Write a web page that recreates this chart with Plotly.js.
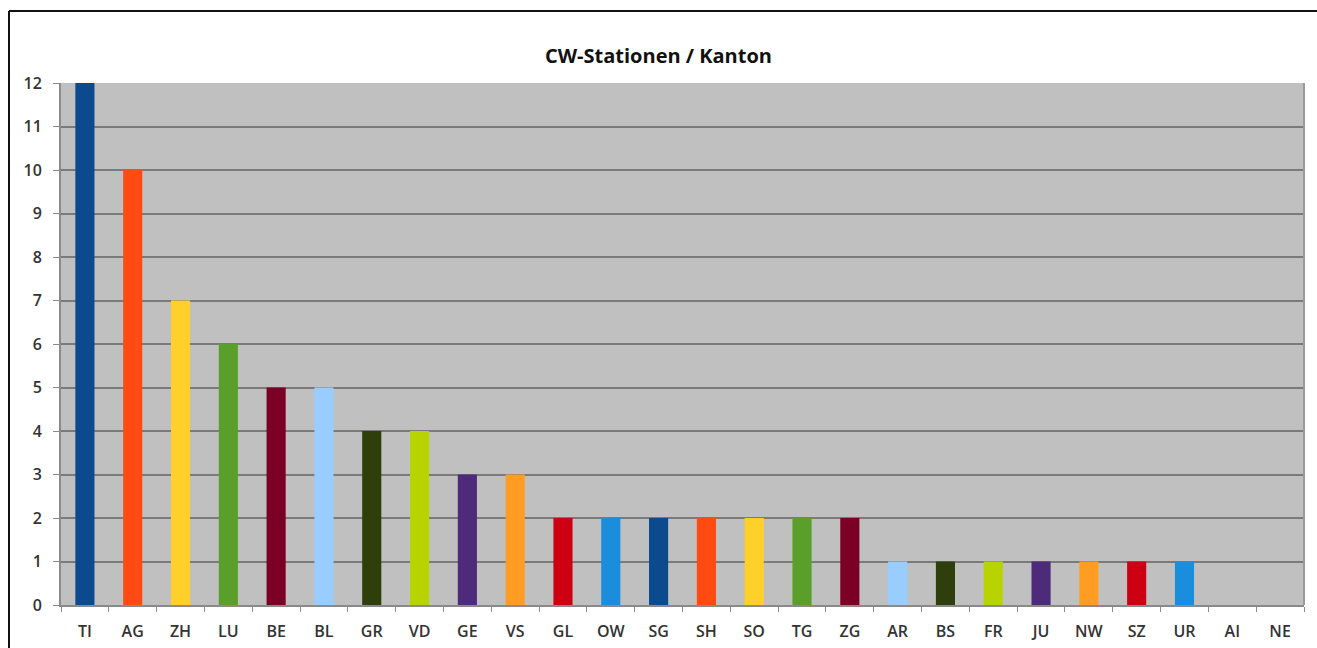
<!DOCTYPE html>
<html>
<head>
<meta charset="utf-8">
<script src="https://cdn.plot.ly/plotly-3.0.1.min.js"></script>
<style>html,body{margin:0;padding:0;background:#fff;}#chart{width:1317px;height:648px;}</style>
</head>
<body>
<div id="chart"></div>
<script>
const cantons = ["TI","AG","ZH","LU","BE","BL","GR","VD","GE","VS","GL","OW","SG","SH","SO","TG","ZG","AR","BS","FR","JU","NW","SZ","UR","AI","NE"];
const stations = [12,10,7,6,5,5,4,4,3,3,2,2,2,2,2,2,2,1,1,1,1,1,1,1,0,0];
const palette = ["#0b4a8c","#ff4a12","#ffd02a","#5a9f2a","#7c0026","#99ccff","#2f3f0c","#b8d400","#4e2a7a","#ff9d22","#cc0012","#1a8ddc"];
const barColors = cantons.map((c, i) => palette[i % palette.length]);
const yTicks = [0,1,2,3,4,5,6,7,8,9,10,11,12];

const tickFont = {family: "Open Sans, Liberation Sans, sans-serif", size: 16, color: "#333333", weight: 600};

Plotly.newPlot("chart", [{
  type: "bar",
  x: cantons,
  y: stations,
  marker: {color: barColors, line: {width: 0}},
  hoverinfo: "x+y"
}], {
  width: 1317, height: 648,
  margin: {l: 61, r: 13, t: 83, b: 43, pad: 0},
  paper_bgcolor: "#ffffff",
  plot_bgcolor: "#c0c0c0",
  bargap: 0.6,
  showlegend: false,
  title: {text: "CW-Stationen / Kanton", x: 0.5, xanchor: "center", y: 1 - 56/648, yanchor: "middle",
          font: {family: "Open Sans, Liberation Sans, sans-serif", size: 20, color: "#111", weight: 700}},
  xaxis: {
    type: "category",
    tickfont: tickFont,
    showgrid: false,
    showline: true, linecolor: "#8a8a8a", linewidth: 2,
    ticks: "outside", tickson: "boundaries", ticklen: 5, tickcolor: "#8a8a8a", tickwidth: 1,
    ticklabelstandoff: 11,
    fixedrange: true
  },
  yaxis: {
    range: [0, 12],
    tickvals: yTicks,
    ticktext: yTicks.map(String),
    tickfont: tickFont,
    showgrid: true, gridcolor: "#7a7a7a", gridwidth: 2,
    zeroline: false,
    showline: true, linecolor: "#8a8a8a", linewidth: 2,
    ticks: "outside", ticklen: 6, tickcolor: "#8a8a8a", tickwidth: 1,
    ticklabelstandoff: 8,
    fixedrange: true
  },
  shapes: [
    {type: "line", xref: "paper", yref: "paper", x0: (9-61)/1243, x1: (1317-61)/1243, y0: 1 + 72/522, y1: 1 + 72/522,
     line: {color: "#111", width: 2}},
    {type: "line", xref: "paper", yref: "paper", x0: (9-61)/1243, x1: (9-61)/1243, y0: -43/522, y1: 1 + 72/522,
     line: {color: "#111", width: 2}},
    {type: "line", xref: "paper", yref: "paper", x0: 1, x1: 1, y0: 0, y1: 1, line: {color: "#9a9a9a", width: 2}}
  ]
}, {displayModeBar: false, staticPlot: true});
</script>
</body>
</html>
